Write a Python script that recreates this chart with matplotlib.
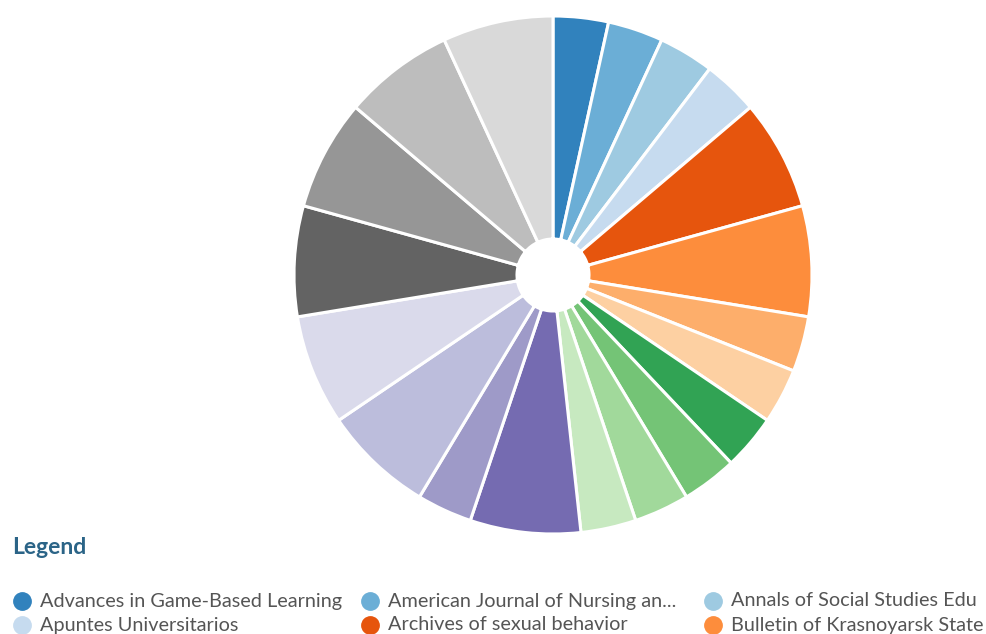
import matplotlib
matplotlib.use("Agg")
import matplotlib.pyplot as plt
from matplotlib.lines import Line2D

# ---- data ----
journals = [
    "Advances in Game-Based Learning",
    "American Journal of Nursing an...",
    "Annals of Social Studies Edu",
    "Apuntes Universitarios",
    "Archives of sexual behavior",
    "Bulletin of Krasnoyarsk State",
    "Journal 7", "Journal 8", "Journal 9", "Journal 10",
    "Journal 11", "Journal 12", "Journal 13", "Journal 14",
    "Journal 15", "Journal 16", "Journal 17", "Journal 18",
    "Journal 19", "Journal 20",
]
counts = [1, 1, 1, 1, 2, 2, 1, 1, 1, 1, 1, 1, 2, 1, 2, 2, 2, 2, 2, 2]
colors = [
    "#3182bd", "#6baed6", "#9ecae1", "#c6dbef",
    "#e6550d", "#fd8d3c", "#fdae6b", "#fdd0a2",
    "#31a354", "#74c476", "#a1d99b", "#c7e9c0",
    "#756bb1", "#9e9ac8", "#bcbddc", "#dadaeb",
    "#636363", "#969696", "#bdbdbd", "#d9d9d9",
]
visible_legend = 6

W, H = 986, 634
fig = plt.figure(figsize=(W / 100, H / 100), dpi=100)
fig.patch.set_facecolor("white")

cx, cy, R = 553, 275, 259
ax = fig.add_axes([(cx - R) / W, 1 - (cy + R) / H, 2 * R / W, 2 * R / H])
ax.pie(counts, colors=colors, startangle=90, counterclock=False, radius=1,
       wedgeprops=dict(width=1 - 36 / R, edgecolor="white", linewidth=2.2,
                       joinstyle="round"))
ax.set_xlim(-1, 1)
ax.set_ylim(-1, 1)
ax.set_aspect("equal")
ax.axis("off")

# ---- legend ----
fig.text(12 / W, 1 - 548 / H, "Legend", family="Lato", fontweight="bold",
         fontsize=16.5, color="#2b6487", va="center", ha="left")

col_x = [22, 370, 713]
row_y = [601, 625]
for i in range(visible_legend):
    r, c = divmod(i, 3)
    x, y = col_x[c], row_y[r]
    fig.add_artist(Line2D([x / W], [1 - y / H], marker="o", markersize=12.5,
                          color=colors[i], linestyle="none",
                          transform=fig.transFigure))
    fig.text((x + 18) / W, 1 - y / H, journals[i], family="Lato",
             fontsize=14.3, color="#555555", va="center", ha="left")

fig.savefig("out.png", dpi=100, facecolor="white")
